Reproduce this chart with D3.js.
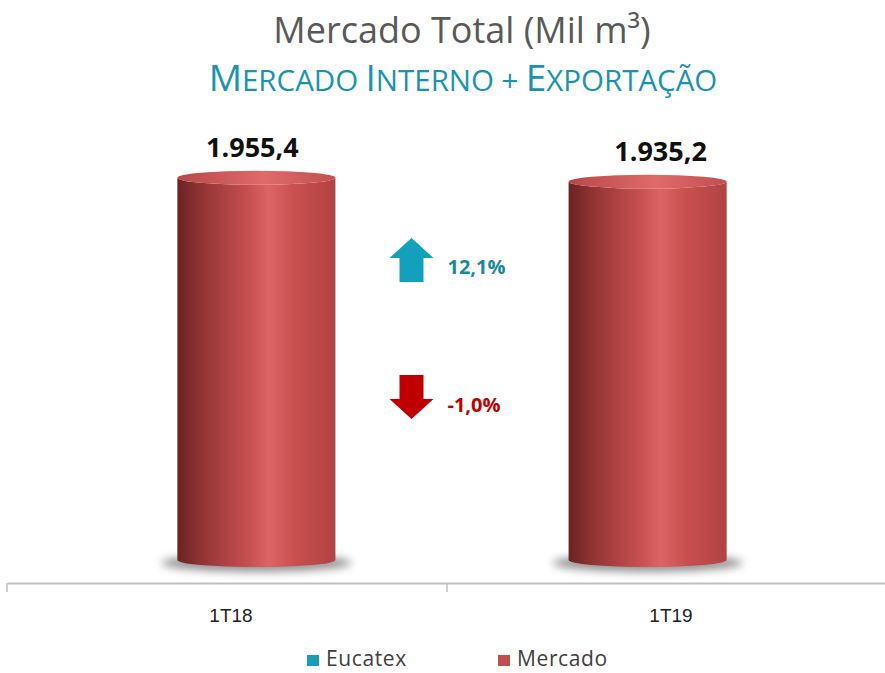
<!DOCTYPE html>
<html>
<head>
<meta charset="utf-8">
<script src="https://cdn.jsdelivr.net/npm/d3@7"></script>
<style>
  html, body { margin: 0; padding: 0; background: #fff; }
  svg { display: block; font-family: 'Open Sans', sans-serif; }
</style>
</head>
<body>
<svg id="viz"></svg>
<script>
// Mercado total - cilindros 1T18 x 1T19

const categorias = ['1T18', '1T19'];
const mercado = [1955.4, 1935.2];
const rotulosMercado = ['1.955,4', '1.935,2'];
const variacoes = [12.1, -1.0];
const rotulosVariacao = ['12,1%', '-1,0%'];
const serieNomes = ['Eucatex', 'Mercado'];
const serieCores = ['#1a9bb8', '#c0504d'];

const width = 885;
const height = 673;

const svg = d3.select('#viz')
    .attr('width', width)
    .attr('height', height);

const defs = svg.append('defs');

// Gradiente lateral do cilindro
const grad = defs.append('linearGradient')
    .attr('id', 'corpo')
    .attr('x1', '0%').attr('x2', '100%')
    .attr('y1', '0%').attr('y2', '0%');
[['0%', '#6a2323'], ['18%', '#983636'], ['45%', '#c65050'], ['58%', '#dc6464'],
 ['75%', '#c94f4f'], ['100%', '#b04343']].forEach(([o, c]) => {
    grad.append('stop').attr('offset', o).attr('stop-color', c);
});

const gradTopo = defs.append('linearGradient')
    .attr('id', 'topo')
    .attr('x1', '0%').attr('x2', '100%');
[['0%', '#b84848'], ['55%', '#df6a6a'], ['100%', '#c25050']].forEach(([o, c]) => {
    gradTopo.append('stop').attr('offset', o).attr('stop-color', c);
});

defs.append('filter').attr('id', 'blur')
    .attr('x', '-30%').attr('y', '-100%').attr('width', '160%').attr('height', '300%')
    .append('feGaussianBlur').attr('stdDeviation', 4);

// Títulos

svg.append('text')
    .attr('x', 462).attr('y', 43)
    .attr('text-anchor', 'middle')
    .style('font-size', '36px')
    .style('fill', '#595959')
    .text('Mercado Total (Mil m³)');

// Subtítulo em versalete feito à mão (maiúsculas maiores)
const subtitulo = 'Mercado Interno + Exportação';
const sub = svg.append('text')
    .attr('x', 463).attr('y', 91)
    .attr('text-anchor', 'middle')
    .style('fill', '#1a93b0');

subtitulo.split(/(\s+)/).forEach(palavra => {
    if (!palavra.length) return;
    if (/^\s+$/.test(palavra)) {
        sub.append('tspan').style('font-size', '28px').text(' ');
        return;
    }
    const primeira = palavra[0];
    const resto = palavra.slice(1);
    sub.append('tspan').style('font-size', primeira === '+' ? '30px' : '37px').text(primeira.toUpperCase());
    if (resto) sub.append('tspan').style('font-size', '29.5px').text(resto.toUpperCase());
});

// Escalas

const xEixo = d3.scaleBand()
    .domain(categorias)
    .range([7, 887]);

const xBarra = d3.scaleBand()
    .domain(categorias)
    .range([60, 844])
    .paddingInner(0.596)
    .paddingOuter(0.3);

const y = d3.scaleLinear()
    .domain([0, 2000])
    .range([560, 169]);

const ry = 7;

// Eixo

const eixoY = 583;
const eixo = svg.append('g')
    .attr('transform', `translate(0,${eixoY})`)
    .call(d3.axisBottom(xEixo).tickSize(0).tickFormat(''));
eixo.select('.domain').attr('stroke', '#bfbfbf').attr('stroke-width', 2);

svg.append('g').selectAll('line')
    .data([7, ...categorias.map(c => xEixo(c) + xEixo.bandwidth())])
    .enter()
    .append('line')
    .attr('x1', d => d).attr('x2', d => d)
    .attr('y1', eixoY).attr('y2', eixoY + 9)
    .attr('stroke', '#bfbfbf')
    .attr('stroke-width', 1.5);

svg.append('g').selectAll('text')
    .data(categorias)
    .enter()
    .append('text')
    .attr('x', d => xEixo(d) + xEixo.bandwidth() / 2 + 4)
    .attr('y', 622)
    .attr('text-anchor', 'middle')
    .style('font-family', "'Liberation Sans Narrow', sans-serif")
    .style('font-size', '19px')
    .style('fill', '#222')
    .text(d => d);

// Cilindros

const dados = categorias.map((c, i) => ({ cat: c, valor: mercado[i], rotulo: rotulosMercado[i] }));

const cil = svg.append('g').selectAll('g')
    .data(dados)
    .enter()
    .append('g');

cil.append('ellipse')
    .attr('cx', d => xBarra(d.cat) + xBarra.bandwidth() / 2)
    .attr('cy', y(0) + 3)
    .attr('rx', xBarra.bandwidth() / 2 + 16)
    .attr('ry', 9)
    .attr('fill', '#6f6f6f')
    .attr('opacity', 0.75)
    .attr('filter', 'url(#blur)');

cil.append('path')
    .attr('d', d => {
        const x0 = xBarra(d.cat);
        const w = xBarra.bandwidth();
        const rx = w / 2;
        const yt = y(d.valor);
        const yb = y(0);
        return `M${x0},${yt} L${x0},${yb} A${rx},${ry} 0 0 0 ${x0 + w},${yb} L${x0 + w},${yt} A${rx},${ry} 0 0 1 ${x0},${yt} Z`;
    })
    .attr('fill', 'url(#corpo)');

cil.append('ellipse')
    .attr('cx', d => xBarra(d.cat) + xBarra.bandwidth() / 2)
    .attr('cy', d => y(d.valor))
    .attr('rx', xBarra.bandwidth() / 2)
    .attr('ry', ry)
    .attr('fill', 'url(#topo)');

cil.append('text')
    .attr('x', (d, i) => xBarra(d.cat) + xBarra.bandwidth() / 2 + (i === 0 ? -4 : 13))
    .attr('y', d => y(d.valor) - 21)
    .attr('text-anchor', 'middle')
    .style('font-size', '27px')
    .style('font-weight', 'bold')
    .style('fill', '#111')
    .text(d => d.rotulo);

// Setas de variação

const setas = svg.append('g').selectAll('g')
    .data(variacoes.map((v, i) => ({ v: v, rotulo: rotulosVariacao[i], cor: i === 0 ? '#12a0bd' : '#c00000', texto: i === 0 ? '#1a8aa0' : '#c00000', cy: i === 0 ? 260 : 397 })))
    .enter()
    .append('g')
    .attr('transform', d => `translate(411.5,${d.cy})`);

setas.append('path')
    .attr('d', d => d.v >= 0
        ? 'M0,-22 L22,-2 L12,-2 L12,22 L-12,22 L-12,-2 L-22,-2 Z'
        : 'M0,22 L22,2 L12,2 L12,-22 L-12,-22 L-12,2 L-22,2 Z')
    .attr('fill', d => d.cor);

setas.append('text')
    .attr('x', 36)
    .attr('y', d => d.v >= 0 ? 14 : 15)
    .style('font-size', '20px')
    .style('font-weight', 'bold')
    .style('fill', d => d.texto)
    .text(d => d.rotulo);

// Legenda

const leg = svg.append('g').selectAll('g')
    .data(serieNomes)
    .enter()
    .append('g')
    .attr('transform', (d, i) => `translate(${i === 0 ? 307 : 498},655)`);

leg.append('rect')
    .attr('width', 12).attr('height', 11)
    .attr('fill', (d, i) => serieCores[i]);

leg.append('text')
    .attr('x', 19).attr('y', 11)
    .style('font-size', '21px')
    .style('letter-spacing', '0.6px')
    .style('fill', '#404040')
    .text(d => d);
</script>
</body>
</html>
